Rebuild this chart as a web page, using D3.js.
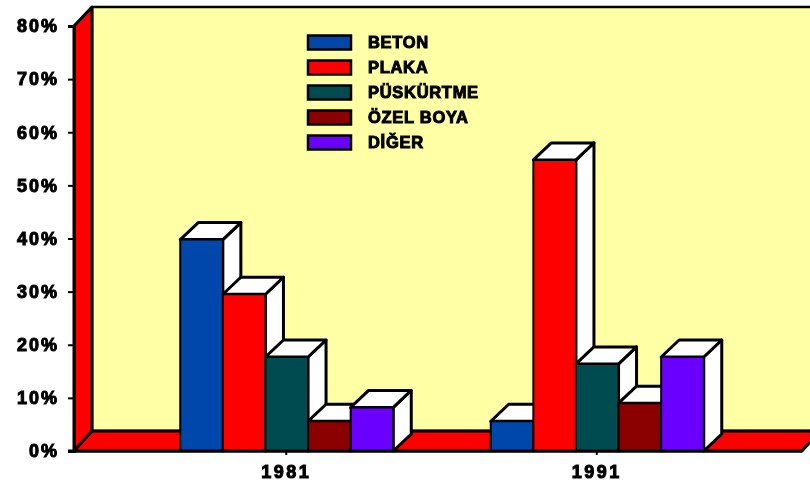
<!DOCTYPE html>
<html>
<head>
<meta charset="utf-8">
<script src="https://cdn.jsdelivr.net/npm/d3@7"></script>
<style>
  html, body { margin: 0; padding: 0; background: #fff; }
  text { font-family: "Liberation Sans", Arial, sans-serif; font-weight: bold; fill: #000; stroke: #000; stroke-width: 1px; }
</style>
</head>
<body>
<div id="chart"></div>
<script>
var years = ["1981", "1991"];
var series = ["BETON", "PLAKA", "PÜSKÜRTME", "ÖZEL BOYA", "DİĞER"];
var colors = ["#0047ab", "#ff0000", "#004b50", "#8b0000", "#6a00ff"];
var values1981 = [39.8, 29.5, 17.7, 5.6, 8.2];
var values1991 = [5.6, 54.8, 16.4, 9, 17.7];
var yTicks = [0, 10, 20, 30, 40, 50, 60, 70, 80];

var width = 810, height = 486;
var wallDx = 18, wallDy = 20; // depth of the back wall
var barDx = 18, barDy = 17;   // depth of the bars

var svg = d3.select("#chart")
  .append("svg")
    .attr("width", width)
    .attr("height", height)
    .style("display", "block");

// slight softening, the reference is an upscaled bitmap
svg.append("defs").append("filter")
    .attr("id", "soft")
  .append("feGaussianBlur")
    .attr("stdDeviation", 0.5);

var root = svg.append("g").attr("filter", "url(#soft)");

var y = d3.scaleLinear().domain([0, 80]).range([451, 26]);
var x0 = d3.scaleBand().domain(years).range([131, 752]);
var x1 = d3.scaleBand().domain(series).range([-106, 107]);

var left = 74, right = 802;

function poly(pts, fill, sw) {
  root.append("polygon")
    .attr("points", pts.map(function(p) { return p.join(","); }).join(" "))
    .attr("fill", fill)
    .attr("stroke", "#000")
    .attr("stroke-width", sw)
    .attr("stroke-linejoin", "round");
}

////////////////walls//////////////////
poly([[left + wallDx, y(80) - wallDy + 1], [right + wallDx + 20, y(80) - wallDy + 1],
      [right + wallDx + 20, y(0) - wallDy], [left + wallDx, y(0) - wallDy]], "#ffffa6", 2.5);
poly([[left, y(80)], [left + wallDx, y(80) - wallDy + 1], [left + wallDx, y(0) - wallDy], [left, y(0)]], "#ff0000", 3);
poly([[left, y(0)], [left + wallDx, y(0) - wallDy], [right + wallDx, y(0) - wallDy], [right, y(0)]], "#ff0000", 3);

////////////////bars//////////////////
function drawBars(year, vals) {
  vals.forEach(function(v, i) {
    var xa = x0(year) + x0.bandwidth() / 2 + x1(series[i]);
    var xb = xa + x1.bandwidth();
    var yt = y(v), yb = y(0);
    // side
    poly([[xb, yt], [xb + barDx, yt - barDy], [xb + barDx, yb - barDy], [xb, yb]], "#fff", 3);
    // top
    poly([[xa, yt], [xa + barDx, yt - barDy], [xb + barDx, yt - barDy], [xb, yt]], "#fff", 3);
    // front
    poly([[xa, yt], [xb, yt], [xb, yb], [xa, yb]], colors[i], 2);
  });
}
drawBars("1981", values1981);
drawBars("1991", values1991);

////////////////axes//////////////////
var yAxis = root.append("g")
    .attr("transform", "translate(" + left + ",0)")
    .call(d3.axisLeft(y).tickValues(yTicks).tickSize(6).tickPadding(9)
      .tickFormat(function(d) { return d + "%"; }));
yAxis.selectAll("path").attr("stroke", "#000").attr("stroke-width", 3);
yAxis.selectAll("line").attr("stroke", "#000").attr("stroke-width", 2);
yAxis.selectAll("text").attr("font-size", "18px").style("letter-spacing", "2px").attr("fill", "#000");

var xAxis = root.append("g")
    .attr("transform", "translate(0," + y(0) + ")")
    .call(d3.axisBottom(x0).tickSize(4).tickPadding(10));
xAxis.select("path").remove();
xAxis.selectAll("line").attr("stroke", "#000").attr("stroke-width", 2);
xAxis.selectAll("text").attr("font-size", "18px").style("letter-spacing", "2.5px").attr("fill", "#000");

root.append("line")
    .attr("x1", left - 6).attr("x2", right)
    .attr("y1", y(0)).attr("y2", y(0))
    .attr("stroke", "#000").attr("stroke-width", 3);

////////////////legend//////////////////
var legendY = d3.scalePoint().domain(series).range([42.5, 142.5]);
var legend = root.selectAll(".legend")
    .data(series)
    .enter()
    .append("g")
    .attr("class", "legend")
    .attr("transform", function(d) { return "translate(308," + legendY(d) + ")"; });
legend.append("rect")
    .attr("x", 0).attr("y", -7)
    .attr("width", 43).attr("height", 14)
    .attr("fill", function(d, i) { return colors[i]; })
    .attr("stroke", "#000").attr("stroke-width", 2.5);
legend.append("text")
    .attr("x", 60).attr("y", 5)
    .attr("font-size", "16.5px")
    .style("letter-spacing", "0.7px")
    .text(function(d) { return d; });
</script>
</body>
</html>
